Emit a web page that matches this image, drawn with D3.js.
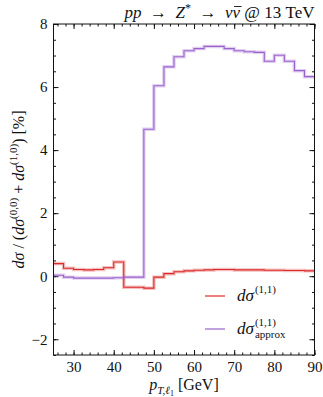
<!DOCTYPE html>
<html>
<head>
<meta charset="utf-8">
<title>pp to Z* to nu nubar ratio</title>
<script src="https://d3js.org/d3.v7.min.js"></script>
<style>
  body { margin: 0; background: #fff; }
  svg text { font-family: "Liberation Serif", "DejaVu Serif", serif; fill: #111; }
  .frame { fill: none; stroke: #111; stroke-width: 1; }
  .tick line { stroke: #111; }
  .domain { display: none; }
</style>
</head>
<body>
<div id="chart"></div>
<script>

// bin starts in GeV (bins 2.5 GeV wide, up to 90)
const binStarts = [25, 27.5, 30, 32.5, 35, 37.5, 40, 42.5, 45, 47.5, 50, 52.5, 55,
  57.5, 60, 62.5, 65, 67.5, 70, 72.5, 75, 77.5, 80, 82.5, 85, 87.5];
const binEnd = 90;

// d sigma (1,1) in %
const exactValues = [0.40, 0.25, 0.21, 0.20, 0.21, 0.27, 0.45, -0.35, -0.35, -0.38, -0.03, 0.08, 0.14,
  0.17, 0.19, 0.20, 0.21, 0.21, 0.20, 0.20, 0.20, 0.19, 0.19, 0.18, 0.18, 0.17];

// d sigma (1,1) approx in %
const approxValues = [0.03, -0.03, -0.06, -0.06, -0.06, -0.06, -0.05, -0.03, -0.03, 4.66, 6.04, 6.64, 6.96,
  7.15, 7.22, 7.29, 7.29, 7.22, 7.15, 7.12, 7.10, 6.82, 7.01, 6.82, 6.52, 6.33];

const yMajor = [-2, 0, 2, 4, 6, 8];
const xMajor = [30, 40, 50, 60, 70, 80, 90];

const W = 323, H = 397;
const margin = {top: 24, right: 8.5, bottom: 42, left: 53.5};
const width = W - margin.left - margin.right,
      height = H - margin.top - margin.bottom;

const svg = d3.select("#chart").append("svg")
    .attr("width", W).attr("height", H);

const g = svg.append("g")
    .attr("transform", `translate(${margin.left},${margin.top})`);

const x = d3.scaleLinear().domain([25, 90]).range([0, width]);
const y = d3.scaleLinear().domain([-2.5, 8]).range([height, 0]);

// minor ticks
const xMinor = d3.range(26, 91, 2);
const yMinor = d3.range(-2.5, 8.01, 0.5);

g.append("g").attr("transform", `translate(0,${height})`)
    .call(d3.axisBottom(x).tickValues(xMinor).tickFormat("").tickSize(-2.5));
g.append("g")
    .call(d3.axisTop(x).tickValues(xMinor).tickFormat("").tickSize(-2.5));
g.append("g")
    .call(d3.axisLeft(y).tickValues(yMinor).tickFormat("").tickSize(-2.5));
g.append("g").attr("transform", `translate(${width},0)`)
    .call(d3.axisRight(y).tickValues(yMinor).tickFormat("").tickSize(-2.5));

// major ticks
g.append("g").attr("transform", `translate(0,${height})`)
    .call(d3.axisBottom(x).tickValues(xMajor).tickFormat(d3.format("d")).tickSize(-5).tickPadding(6))
    .selectAll("text").style("font-size", "15px");
g.append("g")
    .call(d3.axisTop(x).tickValues(xMajor).tickFormat("").tickSize(-5));
g.append("g")
    .call(d3.axisLeft(y).tickValues(yMajor).tickFormat(d3.format("d")).tickSize(-5).tickPadding(6))
    .selectAll("text").style("font-size", "15px");
g.append("g").attr("transform", `translate(${width},0)`)
    .call(d3.axisRight(y).tickValues(yMajor).tickFormat("").tickSize(-5));

// step lines
function stepPoints(vals) {
  const pts = binStarts.map((b, i) => [b, vals[i]]);
  pts.push([binEnd, vals[vals.length - 1]]);
  return pts;
}
const line = d3.line()
    .x(d => x(d[0]))
    .y(d => y(d[1]))
    .curve(d3.curveStepAfter);

const series = [
  {vals: exactValues, color: "#dc2a2a"},
  {vals: approxValues, color: "#9a63cc"}
];

series.forEach(s => {
  g.append("path")
      .attr("d", line(stepPoints(s.vals)))
      .attr("fill", "none")
      .attr("stroke", s.color)
      .attr("stroke-opacity", 0.3)
      .attr("stroke-width", 3.5);
  g.append("path")
      .attr("d", line(stepPoints(s.vals)))
      .attr("fill", "none")
      .attr("stroke", s.color)
      .attr("stroke-width", 1.1);
});

// frame
g.append("rect").attr("class", "frame")
    .attr("width", width).attr("height", height);

// title
const title = svg.append("text")
    .attr("x", margin.left + width).attr("y", 18)
    .attr("text-anchor", "end")
    .style("font-size", "17px");
title.append("tspan").style("font-style", "italic").text("pp");
title.append("tspan").text("\u2002\u2192\u2002");
title.append("tspan").style("font-style", "italic").text("Z");
title.append("tspan").attr("dy", -6).style("font-size", "12px").text("*");
title.append("tspan").attr("dy", 6).text("\u2002\u2192\u2002");
const nuSpan = title.append("tspan").style("font-style", "italic").text("\u03bd\u03bd");
title.append("tspan").text(" @ 13 TeV");

// bar over the second nu
{
  const tn = title.node();
  const full = tn.textContent;
  const idx = full.indexOf("\u03bd\u03bd") + 1;
  const s = tn.getStartPositionOfChar(idx);
  const e = tn.getEndPositionOfChar(idx);
  svg.append("line")
      .attr("x1", s.x + 1.5).attr("x2", e.x + 1.5)
      .attr("y1", 6.5).attr("y2", 6.5)
      .attr("stroke", "#111").attr("stroke-width", 0.9);
}

// y label
const ylab = svg.append("text")
    .attr("transform", `translate(24,${margin.top + height / 2}) rotate(-90)`)
    .attr("text-anchor", "middle")
    .style("font-size", "16px");
ylab.append("tspan").style("font-style", "italic").text("d\u03c3");
ylab.append("tspan").text(" / (");
ylab.append("tspan").style("font-style", "italic").text("d\u03c3");
ylab.append("tspan").attr("dy", -7).style("font-size", "11px").text("(0,0)");
ylab.append("tspan").attr("dy", 7).text(" + ");
ylab.append("tspan").style("font-style", "italic").text("d\u03c3");
ylab.append("tspan").attr("dy", -7).style("font-size", "11px").text("(1,0)");
ylab.append("tspan").attr("dy", 7).text(")  [%]");

// x label
const xlab = svg.append("text")
    .attr("x", margin.left + width / 2).attr("y", 390)
    .attr("text-anchor", "middle")
    .style("font-size", "16px");
xlab.append("tspan").style("font-style", "italic").text("p");
xlab.append("tspan").attr("dy", 4).style("font-size", "11px").style("font-style", "italic").text("T,\u2113");
xlab.append("tspan").attr("dy", 2).style("font-size", "8px").text("1");
xlab.append("tspan").attr("dy", -6).text(" [GeV]");

// legend
const legendItems = [
  {color: "#dc2a2a", sub: null, yy: 296},
  {color: "#9a63cc", sub: "approx", yy: 329}
];
legendItems.forEach(it => {
  svg.append("line")
      .attr("x1", 205).attr("x2", 225)
      .attr("y1", it.yy).attr("y2", it.yy)
      .attr("stroke", it.color).attr("stroke-width", 1.2);
  const t = svg.append("text")
      .attr("x", 237).attr("y", it.yy + 5)
      .style("font-size", "17px").style("font-style", "italic")
      .text("d\u03c3");
  const w = t.node().getComputedTextLength();
  svg.append("text")
      .attr("x", 237 + w + 1).attr("y", it.yy - 3)
      .style("font-size", "11px")
      .text("(1,1)");
  if (it.sub) {
    svg.append("text")
        .attr("x", 237 + w + 1).attr("y", it.yy + 9)
        .style("font-size", "11px")
        .text(it.sub);
  }
});

</script>
</body>
</html>
